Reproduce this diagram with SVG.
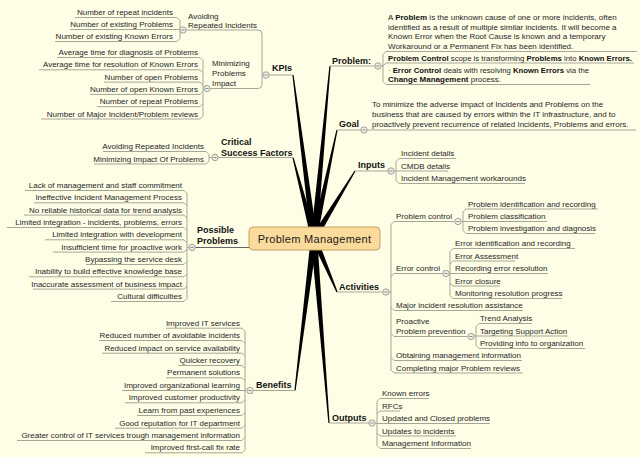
<svg xmlns="http://www.w3.org/2000/svg" width="640" height="457" viewBox="0 0 640 457">
<defs>
<style>
.t{font-family:"Liberation Sans",Arial,sans-serif;font-size:8px;fill:#262626}
.e{text-anchor:end}
.h{font-family:"Liberation Sans",Arial,sans-serif;font-size:9px;font-weight:bold;fill:#111}
.b{font-weight:bold;fill:#111}
.u{fill:none;stroke:#a6a696;stroke-width:1}
.w{fill:#000}
</style>
<g id="col"><circle r="3.2" fill="#efefe6" stroke="#8c8c80" stroke-width="0.8"/><path d="M-1.7,0H1.7" stroke="#777" stroke-width="0.8"/></g>
</defs>
<rect width="640" height="457" fill="#fefee6"/>

<g id="connectors">
<polygon class="w" points="317.2,237.6 293.6,74.9 292.4,75.1 310.8,238.4"/>
<polygon class="w" points="317.2,238.3 330.6,66.1 329.4,65.9 310.8,237.7"/>
<polygon class="w" points="317.1,238.7 337.6,130.1 336.4,129.9 310.9,237.3"/>
<polygon class="w" points="317.1,237.2 293.6,157.4 292.4,157.6 310.9,238.8"/>
<polygon class="w" points="316.7,239.7 355.5,171.3 354.5,170.7 311.3,236.3"/>
<polygon class="w" points="311.1,239.3 336.4,292.2 337.6,291.8 316.9,236.7"/>
<polygon class="w" points="310.8,237.6 294.4,390.4 295.6,390.6 317.2,238.4"/>
<polygon class="w" points="310.8,238.3 328.4,423.1 329.6,422.9 317.2,237.7"/>
<path d="M195.2,247.5H249" fill="none" stroke="#666" stroke-width="1"/>
<path class="u" d="M180,20.5V38.5"/>
<path class="u" d="M203,60.5V116"/>
<path class="u" d="M258,30Q262,30 262,34V84.5Q262,88.5 258,88.5"/>
<path class="u" d="M209,154.5V161M209,157.5H211.8"/>
<path class="u" d="M187,193.5V298.5M187,247.5H188.8"/>
<path class="u" d="M245,331.2V449.8"/>
<path class="u" d="M383,54.5V81.5M381.2,66H383"/>
<path class="u" d="M396,161.5V180.5"/>
<path class="u" d="M391,224.5V370M389.2,292H391"/>
<path class="u" d="M463,212V230.5"/>
<path class="u" d="M450,251.5V295.5"/>
<path class="u" d="M476,326.5V345.5"/>
<path class="u" d="M377,401.5V445.5"/>
</g>

<g id="node-center">
<rect x="249" y="227" width="131" height="23" rx="4" fill="#fbdb9b" stroke="#c4a060" stroke-width="1"/>
<text x="314.5" y="242.5" text-anchor="middle" font-family="Liberation Sans, Arial, sans-serif" font-size="11" letter-spacing="0.3" fill="#1a1a1a">Problem Management</text>
</g>

<g id="node-kpis"><text class="h" x="272" y="71">KPIs</text><path class="u" d="M269.2,75H293"/><use href="#col" x="266" y="75"/></g>
<g id="node-avoiding"><text class="t" x="188" y="18.5">Avoiding</text><text class="t" x="188" y="27.5">Repeated Incidents</text><path class="u" d="M186.2,30H258"/><use href="#col" x="183" y="30"/></g>
<g id="leaf-k1"><text class="t e" x="173" y="15">Number of repeat incidents</text><path class="u" d="M75,17.5H177L180,20.5"/></g>
<g id="leaf-k2"><text class="t e" x="173" y="27">Number of existing Problems</text><path class="u" d="M70,29.5H180"/></g>
<g id="leaf-k3"><text class="t e" x="173" y="39">Number of existing Known Errors</text><path class="u" d="M55,41.5H177L180,38.5"/></g>
<g id="node-minimizing"><text class="t" x="212" y="66">Minimizing</text><text class="t" x="212" y="76">Problems</text><text class="t" x="212" y="86">Impact</text><path class="u" d="M210.2,88.5H258"/><use href="#col" x="207" y="88.5"/></g>
<g id="leaf-k4"><text class="t e" x="198" y="55">Average time for diagnosis of Problems</text><path class="u" d="M57,57.5H200L203,60.5"/></g>
<g id="leaf-k5"><text class="t e" x="198" y="67.3">Average time for resolution of Known Errors</text><path class="u" d="M39,69.8H200L203,72.8"/></g>
<g id="leaf-k6"><text class="t e" x="198" y="79.6">Number of open Problems</text><path class="u" d="M104,82.1H200L203,85.1"/></g>
<g id="leaf-k7"><text class="t e" x="198" y="91.9">Number of open Known Errors</text><path class="u" d="M90,94.4H200L203,91.4"/></g>
<g id="leaf-k8"><text class="t e" x="198" y="104.2">Number of repeat Problems</text><path class="u" d="M97,106.7H200L203,103.7"/></g>
<g id="leaf-k9"><text class="t e" x="198" y="116.5">Number of Major Incident/Problem reviews</text><path class="u" d="M41,119H200L203,116"/></g>

<g id="node-csf"><text class="h" x="221" y="144.5">Critical</text><text class="h" x="221" y="155.5">Success Factors</text><path class="u" d="M218.2,157.5H293"/><use href="#col" x="215" y="157.5"/></g>
<g id="leaf-c1"><text class="t e" x="204" y="149">Avoiding Repeated Incidents</text><path class="u" d="M103,151.5H206L209,154.5"/></g>
<g id="leaf-c2"><text class="t e" x="204" y="161.5">Minimizing Impact Of Problems</text><path class="u" d="M94,164H206L209,161"/></g>

<g id="node-possible"><text class="h" x="197" y="232.5">Possible</text><text class="h" x="197" y="243.5">Problems</text><use href="#col" x="192" y="247.5"/></g>
<g id="leaf-p1"><text class="t e" x="182" y="188">Lack of management and staff commitment</text><path class="u" d="M25,190.5H184L187,193.5"/></g>
<g id="leaf-p2"><text class="t e" x="182" y="200.3">Ineffective Incident Management Process</text><path class="u" d="M34,202.8H184L187,205.8"/></g>
<g id="leaf-p3"><text class="t e" x="182" y="212.6">No reliable historical data for trend analysis</text><path class="u" d="M24,215.1H184L187,218.1"/></g>
<g id="leaf-p4"><text class="t e" x="182" y="225">Limited integration - incidents, problems, errors</text><path class="u" d="M7,227.5H184L187,230.5"/></g>
<g id="leaf-p5"><text class="t e" x="182" y="237.3">Limited integration with development</text><path class="u" d="M45,239.8H184L187,242.8"/></g>
<g id="leaf-p6"><text class="t e" x="182" y="249.6">Insufficient time for proactive work</text><path class="u" d="M53,252.1H184L187,249.1"/></g>
<g id="leaf-p7"><text class="t e" x="182" y="262">Bypassing the service desk</text><path class="u" d="M86,264.5H184L187,261.5"/></g>
<g id="leaf-p8"><text class="t e" x="182" y="274.3">Inability to build effective knowledge base</text><path class="u" d="M29,276.8H184L187,273.8"/></g>
<g id="leaf-p9"><text class="t e" x="182" y="286.6">Inaccurate assessment of business impact</text><path class="u" d="M33,289.1H184L187,286.1"/></g>
<g id="leaf-p10"><text class="t e" x="182" y="299">Cultural difficulties</text><path class="u" d="M111,301.5H184L187,298.5"/></g>

<g id="node-benefits"><text class="h" x="256" y="387.5">Benefits</text><path class="u" d="M253.2,390.5H295"/><use href="#col" x="250" y="390.5"/></g>
<g id="leaf-b1"><text class="t e" x="240" y="325.7">Improved IT services</text><path class="u" d="M166,328.2H242L245,331.2"/></g>
<g id="leaf-b2"><text class="t e" x="240" y="338">Reduced number of avoidable incidents</text><path class="u" d="M99,340.5H242L245,343.5"/></g>
<g id="leaf-b3"><text class="t e" x="240" y="350.7">Reduced impact on service availability</text><path class="u" d="M102,353.2H242L245,356.2"/></g>
<g id="leaf-b4"><text class="t e" x="240" y="363">Quicker recovery</text><path class="u" d="M178,365.5H242L245,368.5"/></g>
<g id="leaf-b5"><text class="t e" x="240" y="375.3">Permanent solutions</text><path class="u" d="M166,377.8H242L245,380.8"/></g>
<g id="leaf-b6"><text class="t e" x="240" y="388">Improved organizational learning</text><path class="u" d="M122,390.5H246.8"/></g>
<g id="leaf-b7"><text class="t e" x="240" y="400.3">Improved customer productivity</text><path class="u" d="M125,402.8H242L245,399.8"/></g>
<g id="leaf-b8"><text class="t e" x="240" y="413">Learn from past experiences</text><path class="u" d="M137,415.5H242L245,412.5"/></g>
<g id="leaf-b9"><text class="t e" x="240" y="425.7">Good reputation for IT department</text><path class="u" d="M115,428.2H242L245,425.2"/></g>
<g id="leaf-b10"><text class="t e" x="240" y="438">Greater control of IT services trough management information</text><path class="u" d="M17,440.5H242L245,437.5"/></g>
<g id="leaf-b11"><text class="t e" x="240" y="450.3">Improved first-call fix rate</text><path class="u" d="M145,452.8H242L245,449.8"/></g>

<g id="node-problem"><text class="h" x="332" y="63.5" font-size="9.5">Problem:</text><path class="u" d="M330,66H374.8"/><use href="#col" x="378" y="66"/></g>
<g id="leaf-pr1"><text class="t" x="388" y="20">A <tspan class="b">Problem</tspan> is the unknown cause of one or more incidents, often</text><text class="t" x="388" y="29.5">identified as a result of multiple similar incidents. It will become a</text><text class="t" x="388" y="39">Known Error when the Root Cause is known and a temporary</text><text class="t" x="388" y="48.5">Workaround or a Permanent Fix has been identified.</text><path class="u" d="M383,54.5L386,51.5H637"/></g>
<g id="leaf-pr2"><text class="t" x="388" y="60.5" textLength="244" lengthAdjust="spacingAndGlyphs"><tspan class="b">Problem Control</tspan> scope is transforming <tspan class="b">Problems</tspan> into <tspan class="b">Known Errors.</tspan></text><path class="u" d="M383,66L386,63H634"/></g>
<g id="leaf-pr3"><text class="t" x="388" y="72.5" textLength="201" lengthAdjust="spacingAndGlyphs">· <tspan class="b">Error Control</tspan> deals with resolving <tspan class="b">Known Errors</tspan> via the</text><text class="t" x="388" y="82"><tspan class="b">Change Management</tspan> process.</text><path class="u" d="M383,81.5L386,84.5H590"/></g>

<g id="node-goal"><text class="h" x="339" y="127">Goal</text><path class="u" d="M337,130H360.8"/><use href="#col" x="364" y="130"/></g>
<g id="leaf-g1"><text class="t" x="372" y="107">To minimize the adverse impact of Incidents and Problems on the</text><text class="t" x="372" y="117">business that are caused by errors within the IT infrastructure, and to</text><text class="t" x="372" y="127">proactively prevent recurrence of related Incidents, Problems and errors.</text><path class="u" d="M367.2,130H636"/></g>

<g id="node-inputs"><text class="h" x="358" y="167.5">Inputs</text><path class="u" d="M355,171H387.8"/><use href="#col" x="391" y="171"/></g>
<g id="leaf-i1"><text class="t" x="401" y="156">Incident details</text><path class="u" d="M396,161.5L399,158.5H456"/></g>
<g id="leaf-i2"><text class="t" x="401" y="168.5">CMDB details</text><path class="u" d="M394.2,171H448"/></g>
<g id="leaf-i3"><text class="t" x="401" y="181">Incident Management workarounds</text><path class="u" d="M396,180.5L399,183.5H525"/></g>

<g id="node-activities"><text class="h" x="339" y="289.5">Activities</text><path class="u" d="M337,292H382.8"/><use href="#col" x="386" y="292"/></g>
<g id="node-problem-control"><text class="t" x="396" y="219">Problem control</text><path class="u" d="M391,224.5L394,221.5H454.8"/><use href="#col" x="458" y="221.5"/></g>
<g id="leaf-a1"><text class="t" x="468" y="206.5">Problem identification and recording</text><path class="u" d="M463,212L466,209H598"/></g>
<g id="leaf-a2"><text class="t" x="468" y="219">Problem classification</text><path class="u" d="M461.2,221.5H547"/></g>
<g id="leaf-a3"><text class="t" x="468" y="231">Problem investigation and diagnosis</text><path class="u" d="M463,230.5L466,233.5H595"/></g>
<g id="node-error-control"><text class="t" x="396" y="271">Error control</text><path class="u" d="M391,276.5L394,273.5H442.8"/><use href="#col" x="446" y="273.5"/></g>
<g id="leaf-a4"><text class="t" x="455" y="246">Error identification and recording</text><path class="u" d="M450,251.5L453,248.5H575"/></g>
<g id="leaf-a5"><text class="t" x="455" y="258.5">Error Assessment</text><path class="u" d="M450,264L453,261H515"/></g>
<g id="leaf-a6"><text class="t" x="455" y="271">Recording error resolution</text><path class="u" d="M449.2,273.5H548"/></g>
<g id="leaf-a7"><text class="t" x="455" y="283.5">Error closure</text><path class="u" d="M450,283L453,286H500"/></g>
<g id="leaf-a8"><text class="t" x="455" y="296">Monitoring resolution progress</text><path class="u" d="M450,295.5L453,298.5H562"/></g>
<g id="leaf-a9"><text class="t" x="396" y="308">Major incident resolution assistance</text><path class="u" d="M391,307.5L394,310.5H523"/></g>
<g id="node-proactive"><text class="t" x="396" y="324">Proactive</text><text class="t" x="396" y="334">Problem prevention</text><path class="u" d="M391,333.5L394,336.5H467.8"/><use href="#col" x="471" y="336.5"/></g>
<g id="leaf-a10"><text class="t" x="480" y="321">Trend Analysis</text><path class="u" d="M476,326.5L479,323.5H532"/></g>
<g id="leaf-a11"><text class="t" x="480" y="333.5">Targeting Support Action</text><path class="u" d="M474.2,336H568"/></g>
<g id="leaf-a12"><text class="t" x="480" y="346">Providing info to organization</text><path class="u" d="M476,345.5L479,348.5H585"/></g>
<g id="leaf-a13"><text class="t" x="396" y="358">Obtaining management information</text><path class="u" d="M391,357.5L394,360.5H522"/></g>
<g id="leaf-a14"><text class="t" x="396" y="370.5">Completing major Problem reviews</text><path class="u" d="M391,370L394,373H523"/></g>

<g id="node-outputs"><text class="h" x="332" y="420.5">Outputs</text><path class="u" d="M329,423H368.8"/><use href="#col" x="372" y="423"/></g>
<g id="leaf-o1"><text class="t" x="382" y="396">Known errors</text><path class="u" d="M377,401.5L380,398.5H429"/></g>
<g id="leaf-o2"><text class="t" x="382" y="408.5">RFCs</text><path class="u" d="M377,414L380,411H400"/></g>
<g id="leaf-o3"><text class="t" x="382" y="421">Updated and Closed problems</text><path class="u" d="M375.2,423.5H490"/></g>
<g id="leaf-o4"><text class="t" x="382" y="433.5">Updates to incidents</text><path class="u" d="M377,433L380,436H456"/></g>
<g id="leaf-o5"><text class="t" x="382" y="446">Management Information</text><path class="u" d="M377,445.5L380,448.5H471"/></g>
</svg>
